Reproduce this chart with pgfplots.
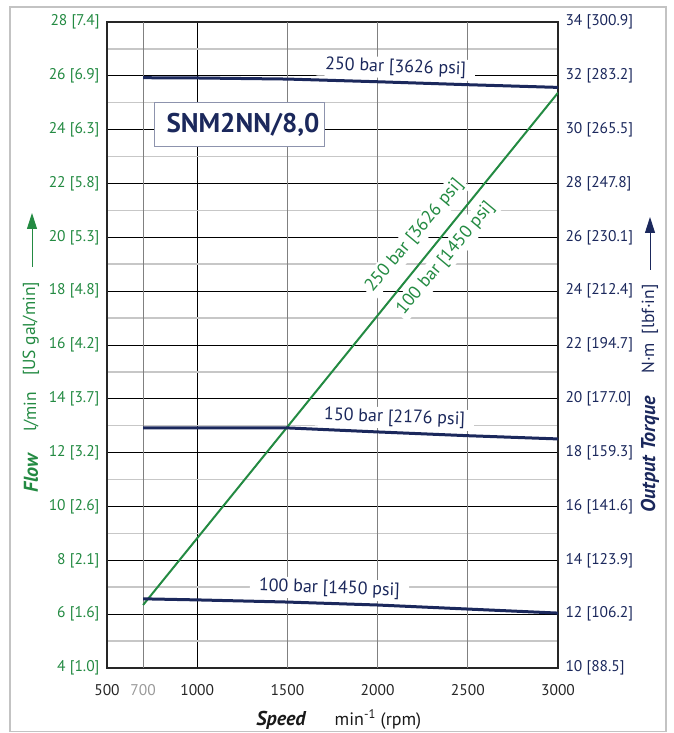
\documentclass[border=0pt]{standalone}
\usepackage{fontspec}
\setmainfont{PT Sans}
\usepackage{pgfplots}
\pgfplotsset{compat=1.18}
\usetikzlibrary{arrows.meta}
\definecolor{flowgreen}{RGB}{35,138,66}
\definecolor{navy}{RGB}{27,40,92}
\definecolor{framegray}{RGB}{195,195,195}

\begin{document}
\begin{tikzpicture}[x=1pt,y=1pt]
\useasboundingbox (0pt,0pt) rectangle (673pt,733pt);
\draw[framegray, line width=1.5pt] (10pt,1.5pt) rectangle (666pt,726pt);

% flow axis (left)
\begin{axis}[
  at={(107pt,65pt)}, anchor=south west,
  scale only axis, width=451pt, height=646pt,
  xmin=500, xmax=3000, ymin=4, ymax=28,
  xtick={500,1000,3000}, xticklabels={500,1000,3000},
  extra x ticks={700,1500,2000,2500},
  extra x tick labels={\textcolor{black!40}{700},1500,2000,2500},
  extra x tick style={grid=major, major grid style={black!50, line width=0.9pt}},
  ytick={4,6,...,28},
  yticklabels={{4 [1.0]},{6 [1.6]},{8 [2.1]},{10 [2.6]},{12 [3.2]},{14 [3.7]},{16 [4.2]},{18 [4.8]},{20 [5.3]},{22 [5.8]},{24 [6.3]},{26 [6.9]},{28 [7.4]}},
  minor ytick={5,7,...,27},
  grid=both,
  major grid style={black, line width=0.7pt},
  minor grid style={black!22, line width=1.5pt},
  major tick length=0pt, minor tick length=0pt,
  yticklabel pos=left,
  yticklabel shift=4pt,
  xticklabel shift=13pt,
  tick label style={font=\fontsize{15.5}{18}\selectfont},
  yticklabel style={text=flowgreen},
  xticklabel style={text=black!85},
  axis line style={black!85, line width=1.3pt},
]
\node[rotate=50, fill=white, inner sep=3pt, text=flowgreen, font=\fontsize{18}{21}\selectfont] at (axis cs:2205,20.05) {250 bar [3626 psi]};
\node[rotate=50, fill=white, inner sep=3pt, text=flowgreen, font=\fontsize{18}{21}\selectfont] at (axis cs:2378,19.22) {100 bar [1450 psi]};
\addplot[flowgreen, line width=2pt] coordinates {(700,6.34) (3000,25.37)};
\end{axis}

% torque axis (right)
\begin{axis}[
  at={(107pt,65pt)}, anchor=south west,
  scale only axis, width=451pt, height=646pt,
  xmin=500, xmax=3000, ymin=10, ymax=34,
  hide x axis, axis y line*=right, y axis line style={draw=none},
  ytick={10,12,...,34},
  yticklabels={{10 [88.5]},{12 [106.2]},{14 [123.9]},{16 [141.6]},{18 [159.3]},{20 [177.0]},{22 [194.7]},{24 [212.4]},{26 [230.1]},{28 [247.8]},{30 [265.5]},{32 [283.2]},{34 [300.9]}},
  major tick length=0pt,
  yticklabel shift=4pt,
  yticklabel style={text=navy, font=\fontsize{15.5}{18}\selectfont},
]
\node[rotate=-2, fill=white, inner xsep=9pt, inner ysep=2pt, text=navy, font=\fontsize{18}{21}\selectfont] at (axis cs:2100,32.30) {250 bar [3626 psi]};
\node[rotate=-2, fill=white, inner xsep=9pt, inner ysep=2pt, text=navy, font=\fontsize{18}{21}\selectfont] at (axis cs:2094,19.29) {150 bar [2176 psi]};
\node[rotate=-2, fill=white, inner xsep=9pt, inner ysep=2pt, text=navy, font=\fontsize{18}{21}\selectfont] at (axis cs:1733,12.94) {100 bar [1450 psi]};
\addplot[navy, line width=3pt] coordinates {(700,31.93) (1000,31.92) (1500,31.88) (2000,31.78) (2500,31.67) (3000,31.57)};
\addplot[navy, line width=3pt] coordinates {(700,18.92) (1000,18.92) (1500,18.92) (2000,18.77) (2500,18.63) (3000,18.51)};
\addplot[navy, line width=3pt] coordinates {(700,12.57) (1000,12.53) (1500,12.45) (2000,12.34) (2500,12.19) (3000,12.04)};
\end{axis}

% model box
\node[draw=navy!50, line width=1pt, fill=white, minimum width=170pt, minimum height=44pt, inner sep=0pt, text=navy, font=\fontsize{27}{30}\selectfont\bfseries] at (239pt,608pt) {\hspace*{8pt}SNM2NN/8,0};

% left axis title
\node[rotate=90, text=flowgreen, font=\fontsize{20}{22}\selectfont\bfseries\itshape] at (31pt,260pt) {Flow};
\node[rotate=90, text=flowgreen, font=\fontsize{17.5}{20}\selectfont] at (31pt,321pt) {l/min};
\node[rotate=90, text=flowgreen, font=\fontsize{17.5}{20}\selectfont] at (31pt,404pt) {[US gal/min]};
\draw[flowgreen, line width=1pt, -{Triangle[length=16pt,width=10pt]}] (32pt,466pt) -- (32pt,520pt);

% right axis title
\node[rotate=90, text=navy, font=\fontsize{20}{22}\selectfont\bfseries\itshape] at (650pt,279pt) {Output Torque};
\node[rotate=90, text=navy, font=\fontsize{17.5}{20}\selectfont] at (650pt,404pt) {N·m\enspace[lbf·in]};
\draw[navy, line width=1pt, -{Triangle[length=16pt,width=10pt]}] (650pt,463pt) -- (650pt,516pt);

% x axis title
\node[anchor=base, text=black!90, font=\fontsize{20}{22}\selectfont\bfseries\itshape] at (281pt,8pt) {Speed};
\node[anchor=base, text=black!90, font=\fontsize{18}{20}\selectfont] at (378pt,8pt) {min\textsuperscript{-1} (rpm)};
\end{tikzpicture}
\end{document}
